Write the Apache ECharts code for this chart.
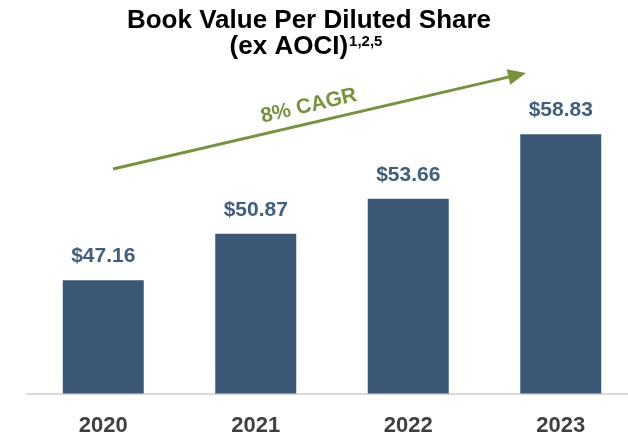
<!DOCTYPE html>
<html>
<head>
<meta charset="utf-8">
<script src="https://cdn.jsdelivr.net/npm/echarts@6/dist/echarts.min.js"></script>
<style>
  html, body { margin: 0; padding: 0; background: #fff; }
  #chart { width: 628px; height: 435px; }
</style>
</head>
<body>
<div id="chart"></div>
<script>
// datos del gráfico
const years = ['2020', '2021', '2022', '2023'];
const bookValues = [47.16, 50.87, 53.66, 58.83];
const cagrLabel = '8% CAGR';

const FONT = '"Liberation Sans", Arial, sans-serif';
const BAR_COLOR = '#3b5877';
const GREEN = '#77933c';

const chart = echarts.init(document.getElementById('chart'));

// flecha de crecimiento (anotación)
const arrowAngle = Math.atan2(96, 413);

const option = {
  animation: false,
  title: [
    {
      text: 'Book Value Per Diluted Share',
      left: 304,
      top: 3,
      textAlign: 'center',
      textStyle: { fontFamily: FONT, fontWeight: 'bold', fontSize: 26, color: '#000' }
    },
    {
      text: '{t|(ex AOCI)}{s|1,2,5}',
      left: 301,
      top: 29,
      textAlign: 'center',
      textStyle: {
        rich: {
          t: { fontFamily: FONT, fontWeight: 'bold', fontSize: 26, color: '#000' },
          s: { fontFamily: FONT, fontWeight: 'bold', fontSize: 15, color: '#000', padding: [0, 0, 10, 1] }
        }
      }
    }
  ],
  grid: { left: 27, right: -9, top: 119.5, bottom: 41.5, outerBoundsMode: 'none', containLabel: false },
  xAxis: {
    type: 'category',
    data: years,
    axisTick: { show: false },
    axisLine: { lineStyle: { color: '#d9d9d9', width: 2 } },
    axisLabel: { margin: 21, fontFamily: FONT, fontWeight: 'bold', fontSize: 22, color: '#404040' }
  },
  yAxis: {
    type: 'value',
    min: 38.1,
    max: 60,
    show: false,
    splitLine: { show: false }
  },
  series: [
    {
      type: 'bar',
      data: bookValues,
      barWidth: 81,
      itemStyle: { color: BAR_COLOR },
      label: {
        show: true,
        position: 'top',
        distance: 13,
        formatter: p => '$' + p.value.toFixed(2),
        fontFamily: FONT,
        fontWeight: 'bold',
        fontSize: 21,
        color: '#3f5f7f'
      }
    }
  ],
  graphic: [
    {
      type: 'group',
      x: 113,
      y: 169,
      rotation: arrowAngle,
      children: [
        {
          type: 'line',
          shape: { x1: 0, y1: 0, x2: 408, y2: 0 },
          style: { stroke: GREEN, lineWidth: 3 }
        },
        {
          type: 'polygon',
          shape: { points: [[406, -8], [424, 0], [406, 8]] },
          style: { fill: GREEN }
        },
        {
          type: 'text',
          x: 205,
          y: -17,
          style: {
            text: cagrLabel,
            fontFamily: FONT,
            fontWeight: 'bold',
            fontSize: 21,
            fill: GREEN,
            align: 'center',
            verticalAlign: 'middle'
          }
        }
      ]
    }
  ]
};

chart.setOption(option);
</script>
</body>
</html>
